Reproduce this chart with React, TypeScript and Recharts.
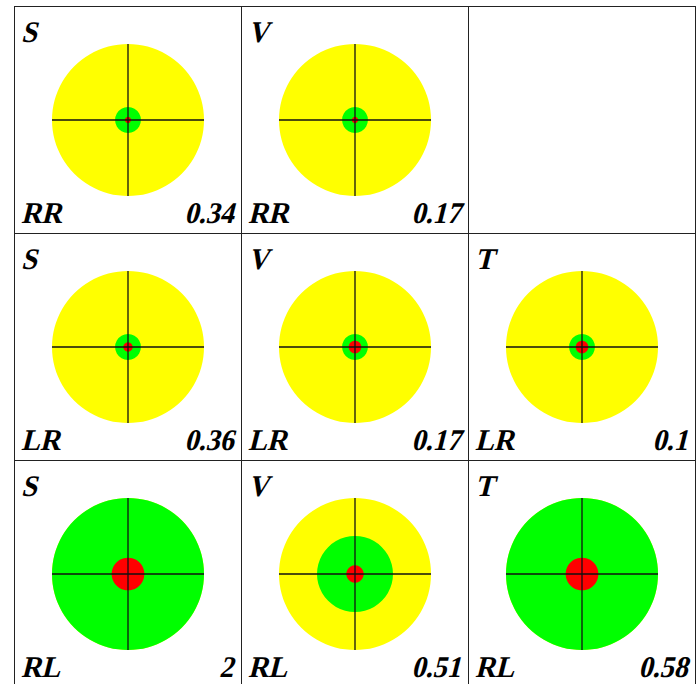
import React from 'react';
import { PieChart, Pie, Cell } from 'recharts';

const rowLabels = ['RR', 'LR', 'RL'];
const colLabels = ['S', 'V', 'T'];
// value shown bottom-right of each panel (null = empty panel)
const values = [
  [0.34, 0.17, null],
  [0.36, 0.17, 0.1],
  [2, 0.51, 0.58],
];
// ring radii as fraction of the outer (yellow) disk
const greenRadius = [
  [0.17, 0.17, null],
  [0.17, 0.17, 0.17],
  [1, 0.5, 1],
];
const redRadius = [
  [0.04, 0.042, null],
  [0.062, 0.083, 0.083],
  [0.215, 0.115, 0.215],
];

const CELL = 227;
const INNER = CELL - 1;
const R = 76;

const one = [{ name: 'ring', value: 1 }];

// bold serif, slanted by hand (no bold-italic face available)
const labelStyle: React.CSSProperties = {
  position: 'absolute',
  fontFamily: 'Liberation Serif, serif',
  fontWeight: 'bold',
  fontSize: 30,
  lineHeight: '22px',
  color: '#000',
  whiteSpace: 'nowrap',
  transform: 'skewX(-14deg) scaleX(0.94)',
};

function Panel({ row, col }: { row: number; col: number }) {
  const v = values[row][col];
  const g = greenRadius[row][col];
  const r = redRadius[row][col];
  const c = INNER / 2;
  return (
    <div
      style={{
        position: 'relative',
        width: INNER,
        height: INNER,
        borderRight: '1px solid #222',
        borderBottom: '1px solid #222',
      }}
    >
      {v !== null && (
        <>
          <PieChart width={INNER} height={INNER} margin={{ top: 0, right: 0, bottom: 0, left: 0 }}>
            <Pie data={one} dataKey="value" cx="50%" cy="50%" outerRadius={R} stroke="none" isAnimationActive={false}>
              <Cell fill="#ffff00" />
            </Pie>
            <Pie data={one} dataKey="value" cx="50%" cy="50%" outerRadius={R * (g as number)} stroke="none" isAnimationActive={false}>
              <Cell fill="#00ff00" />
            </Pie>
            <Pie data={one} dataKey="value" cx="50%" cy="50%" outerRadius={R * (r as number)} stroke="none" isAnimationActive={false}>
              <Cell fill="#ff0000" />
            </Pie>
          </PieChart>
          <svg width={INNER} height={INNER} style={{ position: 'absolute', left: 0, top: 0, pointerEvents: 'none' }}>
            <line x1={c - R} x2={c + R} y1={c} y2={c} stroke="#111" strokeWidth={1.3} />
            <line x1={c} x2={c} y1={c - R} y2={c + R} stroke="#111" strokeWidth={1.3} />
          </svg>
          <div style={{ ...labelStyle, left: 6, top: 14, transformOrigin: '0 21px' }}>{colLabels[col]}</div>
          <div style={{ ...labelStyle, left: 6, top: 195, transformOrigin: '0 21px' }}>{rowLabels[row]}</div>
          <div style={{ ...labelStyle, right: 8, top: 195, transformOrigin: '100% 21px' }}>{v}</div>
        </>
      )}
    </div>
  );
}

export default function App() {
  return (
    <div
      style={{
        position: 'absolute',
        left: 14,
        top: 6,
        display: 'grid',
        gridTemplateColumns: `repeat(3, ${CELL}px)`,
        borderLeft: '1px solid #222',
        borderTop: '1px solid #222',
        background: '#fff',
      }}
    >
      {rowLabels.map((_, row) =>
        colLabels.map((__, col) => <Panel key={`${row}-${col}`} row={row} col={col} />)
      )}
    </div>
  );
}
